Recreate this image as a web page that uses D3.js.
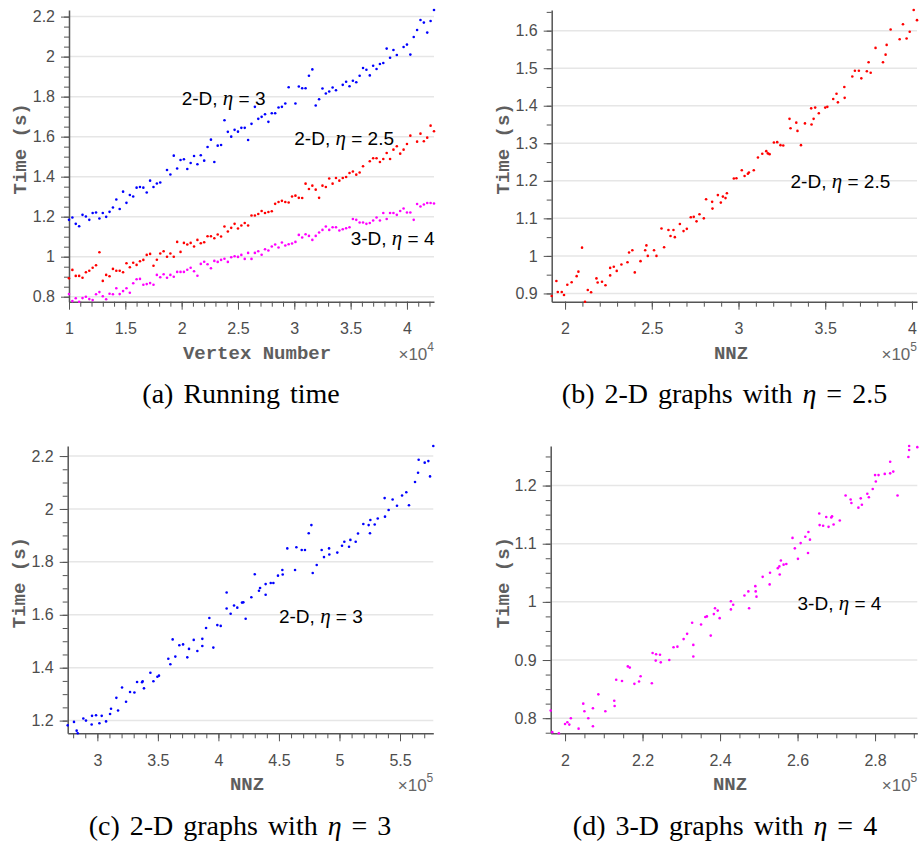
<!DOCTYPE html>
<html>
<head>
<meta charset="utf-8">
<script src="https://cdn.jsdelivr.net/npm/d3@7"></script>
<style>
  body { margin: 0; background: #fff; }
  svg { display: block; font-family: "Liberation Sans", Arial, sans-serif; }
  .tick text { font-size: 16px; fill: #4d4d4d; }
  .tick line, .domain { stroke: #555; }
  .axtitle { font-family: "Liberation Mono", "Courier New", monospace; font-weight: bold; font-size: 19px; fill: #5e5e5e; }
  .note { font-size: 19px; fill: #000; }
  .caption { font-family: "Liberation Serif", "Times New Roman", serif; font-size: 28px; word-spacing: 3px; fill: #000; }
  .eta { font-family: "Liberation Serif", serif; font-style: italic; }
</style>
</head>
<body>
<svg id="fig" width="919" height="845"></svg>
<script>
// ---- data ----

// panel (a): vertex number of each graph
var vertexNum = [10000, 10300, 10600, 10900, 11200, 11500, 11800, 12100, 12400, 12700,
  13000, 13300, 13600, 13900, 14200, 14500, 14800, 15100, 15400, 15700,
  16000, 16300, 16600, 16900, 17200, 17500, 17800, 18100, 18400, 18700,
  19000, 19300, 19600, 19900, 20200, 20500, 20800, 21100, 21400, 21700,
  22000, 22300, 22600, 22900, 23200, 23500, 23800, 24100, 24400, 24700,
  25000, 25300, 25600, 25900, 26200, 26500, 26800, 27100, 27400, 27700,
  28000, 28300, 28600, 28900, 29200, 29500, 29800, 30100, 30400, 30700,
  31000, 31300, 31600, 31900, 32200, 32500, 32800, 33100, 33400, 33700,
  34000, 34300, 34600, 34900, 35200, 35500, 35800, 36100, 36400, 36700,
  37000, 37300, 37600, 37900, 38200, 38500, 38800, 39100, 39400, 39700,
  40000, 40300, 40600, 40900, 41200, 41500, 41800, 42100, 42400]

// running time (s), null = no dot visible
var time2D3 = [1.184, 1.196, 1.164, 1.152, 1.209, 1.201, 1.184, 1.218, 1.221, 1.191,
  1.218, 1.199, 1.224, 1.246, 1.286, 1.238, 1.325, 1.269, 1.308, 1.301,
  1.345, 1.348, 1.345, 1.321, 1.380, 1.348, 1.366, 1.371, null, 1.433,
  1.411, 1.505, 1.441, 1.483, 1.487, 1.438, 1.468, 1.503, 1.462, 1.507,
  1.480, 1.548, 1.585, 1.473, 1.555, 1.558, 1.682, 1.624, 1.600, 1.634,
  1.625, 1.644, 1.644, 1.583, 1.664, 1.749, 1.689, 1.699, 1.712, 1.674,
  1.717, 1.717, 1.746, 1.749, 1.766, 1.847, null, 1.766, 1.851, 1.842,
  1.842, 1.904, 1.936, 1.756, 1.787, 1.841, 1.816, 1.826, 1.846, 1.832,
  null, 1.859, 1.874, 1.852, 1.879, 1.872, 1.904, 1.943, 1.934, 1.906,
  1.954, 1.938, 1.963, 1.968, 2.040, 1.994, 2.033, 2.008, null, 2.048,
  2.060, 2.010, 2.098, 2.133, 2.183, 2.170, 2.120, 2.178, 2.233]

var time2D25 = [0.892, 0.934, 0.904, 0.904, 0.895, 0.922, 0.930, 0.945, 0.957, 1.022,
  0.879, 0.909, 0.902, 0.939, 0.930, 0.930, 0.922, 0.967, 0.947, 0.970,
  0.959, 0.977, 0.984, 1.009, 1.014, 0.955, 0.985, 1.016, 1.027, 1.000,
  1.016, 1.000, 1.074, 1.024, 1.069, 1.061, 1.069, 1.051, 1.084, 1.067,
  1.072, 1.102, 1.102, 1.092, 1.111, 1.101, 1.151, 1.126, 1.144, 1.164,
  1.141, 1.156, 1.168, 1.156, 1.206, 1.206, 1.213, 1.228, 1.218, 1.223,
  1.227, 1.264, 1.273, 1.279, 1.273, 1.271, 1.301, 1.305, 1.294, 1.293,
  1.365, 1.338, 1.355, 1.335, 1.294, 1.355, 1.348, 1.391, 1.365, 1.393,
  1.380, 1.393, 1.398, 1.418, 1.426, 1.410, 1.421, 1.452, null, 1.477,
  1.492, 1.492, 1.473, 1.488, 1.518, 1.488, 1.535, 1.552, 1.515, 1.535,
  1.563, 1.605, null, 1.575, 1.615, 1.577, 1.595, 1.655, 1.627]

var time3D4 = [0.813, 0.778, 0.792, 0.775, 0.793, 0.800, 0.788, 0.783, 0.812, 0.823,
  0.802, 0.787, 0.815, 0.812, 0.842, 0.813, 0.828, 0.842, 0.820, 0.867,
  0.887, 0.889, 0.860, 0.863, 0.868, 0.860, 0.909, 0.897, 0.912, 0.895,
  0.909, 0.900, 0.924, 0.924, 0.924, 0.935, 0.945, 0.927, 0.905, 0.964,
  0.975, 0.962, 0.942, 0.979, 0.974, 0.984, 0.990, 0.974, 0.997, 1.002,
  0.999, 1.009, 0.989, 1.019, 0.989, 1.019, 1.027, 1.010, 1.037, 1.031,
  1.051, 1.061, 1.046, 1.071, 1.056, 1.062, 1.066, 1.074, 1.109, 1.096,
  1.112, 1.104, 1.084, 1.104, 1.121, 1.134, 1.151, 1.134, 1.147, 1.147,
  1.131, 1.137, 1.142, 1.147, 1.188, 1.184, 1.171, 1.171, 1.164, 1.168,
  1.181, 1.196, 1.181, 1.218, 1.188, 1.218, 1.218, 1.209, 1.228, 1.241,
  1.221, 1.221, 1.184, 1.263, 1.251, 1.261, 1.268, 1.268, 1.266]

// panel (b): 2-D, eta = 2.5  (NNZ in units of 1e5)
var nnzB = [1.923, 1.950, 1.958, 1.981, 1.994, 2.013, 2.038, 2.067, 2.077, 2.098,
  2.115, 2.131, 2.150, 2.181, 2.188, 2.213, 2.233, 2.260, 2.260, 2.281,
  2.298, 2.325, 2.360, 2.369, 2.388, 2.402, 2.435, 2.462, 2.469, 2.477,
  2.513, 2.527, 2.556, 2.571, 2.596, 2.608, 2.625, 2.633, 2.662, 2.683,
  2.702, 2.725, 2.742, 2.758, 2.775, 2.800, 2.813, 2.848, 2.850, 2.881,
  2.898, 2.910, 2.925, 2.933, 2.973, 2.988, 3.019, 3.035, 3.054, 3.060,
  3.088, 3.112, 3.137, 3.160, 3.169, 3.179, 3.204, 3.223, 3.242, 3.258,
  3.294, 3.300, 3.333, 3.340, 3.360, 3.383, 3.419, 3.421, 3.433, 3.442,
  3.463, 3.500, 3.512, 3.546, 3.565, 3.573, 3.610, 3.612, 3.656, 3.671,
  3.694, 3.708, 3.740, 3.750, 3.762, 3.790, 3.833, 3.848, 3.854, 3.877,
  3.929, 3.948, 3.969, 3.987, 4.010, 4.029]
var timeB = [0.893, 0.933, 0.904, 0.904, 0.896, 0.923, 0.930, 0.946, 0.958, 1.022,
  0.878, 0.909, 0.903, 0.940, 0.929, 0.931, 0.922, 0.948, 0.968, 0.971,
  0.960, 0.977, 0.983, 1.009, 1.015, 0.956, 0.986, 1.015, 1.028, 1.000,
  1.015, 1.000, 1.073, 1.023, 1.069, 1.053, 1.069, 1.050, 1.085, 1.066,
  1.072, 1.103, 1.104, 1.092, 1.111, 1.100, 1.151, 1.144, 1.126, 1.162,
  1.142, 1.158, 1.154, 1.167, 1.206, 1.207, 1.228, 1.213, 1.219, 1.222,
  1.228, 1.262, 1.272, 1.279, 1.273, 1.271, 1.302, 1.303, 1.295, 1.294,
  1.365, 1.340, 1.355, 1.333, 1.295, 1.353, 1.393, 1.350, 1.365, 1.395,
  1.380, 1.395, 1.397, 1.418, 1.432, 1.409, 1.450, 1.421, 1.478, 1.493,
  1.493, 1.473, 1.492, 1.516, 1.488, 1.554, 1.516, 1.536, 1.562, 1.603,
  1.577, 1.617, 1.579, 1.597, 1.655, 1.628]

// panel (c): 2-D, eta = 3
var nnzC = [2.755, 2.807, 2.829, 2.838, 2.884, 2.906, 2.953, 2.956, 2.989, 3.017,
  3.036, 3.072, 3.105, 3.113, 3.157, 3.171, 3.204, 3.237, 3.270, 3.306,
  3.328, 3.369, 3.374, 3.385, 3.438, 3.463, 3.496, 3.509, 3.586, 3.603,
  3.622, 3.644, 3.677, 3.708, 3.743, 3.757, 3.796, 3.826, 3.867, 3.867,
  3.898, 3.925, 3.958, 3.991, 4.019, 4.068, 4.068, 4.101, 4.129, 4.156,
  4.195, 4.206, 4.225, 4.272, 4.300, 4.335, 4.344, 4.390, 4.390, 4.432,
  4.454, 4.492, 4.528, 4.531, 4.569, 4.633, 4.644, 4.688, 4.715, 4.746,
  4.768, 4.779, 4.812, 4.853, 4.872, 4.914, 4.916, 4.982, 5.021, 5.040,
  5.079, 5.090, 5.134, 5.153, 5.197, 5.241, 5.252, 5.255, 5.291, 5.316,
  5.373, 5.376, 5.406, 5.439, 5.475, 5.517, 5.552, 5.574, 5.624, 5.649,
  5.654, 5.704, 5.734, 5.748, 5.775]
var timeC = [1.182, 1.195, 1.162, 1.152, 1.208, 1.200, 1.185, 1.218, 1.220, 1.190,
  1.218, 1.197, 1.225, 1.245, 1.286, 1.238, 1.325, 1.271, 1.308, 1.306,
  1.346, 1.345, 1.349, 1.322, 1.381, 1.349, 1.366, 1.370, 1.434, 1.413,
  1.507, 1.442, 1.485, 1.488, 1.439, 1.471, 1.505, 1.463, 1.509, 1.482,
  1.550, 1.588, 1.476, 1.561, 1.558, 1.684, 1.624, 1.604, 1.635, 1.627,
  1.646, 1.647, 1.585, 1.666, 1.753, 1.691, 1.701, 1.716, 1.676, 1.720,
  1.720, 1.748, 1.769, 1.752, 1.851, 1.769, 1.855, 1.845, 1.845, 1.908,
  1.939, 1.758, 1.788, 1.845, 1.818, 1.851, 1.828, 1.835, 1.861, 1.876,
  1.857, 1.883, 1.876, 1.907, 1.943, 1.939, 1.908, 1.958, 1.941, 1.964,
  2.041, 1.971, 1.996, 2.036, 2.012, 2.051, 2.063, 2.014, 2.102, 2.137,
  2.186, 2.175, 2.181, 2.123, 2.238]

// panel (d): 3-D, eta = 4
var nnzD = [1.963, 1.967, 1.984, 2.000, 2.006, 2.011, 2.015, 2.035, 2.047, 2.050,
  2.060, 2.072, 2.072, 2.086, 2.104, 2.127, 2.128, 2.132, 2.147, 2.162,
  2.167, 2.179, 2.191, 2.195, 2.224, 2.226, 2.234, 2.235, 2.245, 2.247,
  2.269, 2.280, 2.290, 2.306, 2.315, 2.328, 2.331, 2.331, 2.351, 2.362,
  2.366, 2.376, 2.384, 2.387, 2.394, 2.399, 2.428, 2.428, 2.434, 2.463,
  2.473, 2.475, 2.491, 2.492, 2.494, 2.510, 2.528, 2.529, 2.549, 2.553,
  2.554, 2.557, 2.564, 2.571, 2.587, 2.593, 2.601, 2.608, 2.620, 2.627,
  2.628, 2.632, 2.656, 2.657, 2.666, 2.674, 2.680, 2.687, 2.689, 2.693,
  2.709, 2.724, 2.737, 2.739, 2.757, 2.763, 2.766, 2.780, 2.784, 2.794,
  2.800, 2.802, 2.809, 2.825, 2.839, 2.839, 2.847, 2.858, 2.886, 2.888,
  2.888, 2.909]
var timeD = [0.813, 0.776, 0.774, 0.790, 0.793, 0.789, 0.800, 0.782, 0.825, 0.812,
  0.800, 0.817, 0.786, 0.841, 0.812, 0.830, 0.821, 0.866, 0.864, 0.889,
  0.887, 0.859, 0.863, 0.872, 0.860, 0.912, 0.899, 0.910, 0.909, 0.896,
  0.900, 0.922, 0.923, 0.936, 0.945, 0.964, 0.926, 0.906, 0.961, 0.974,
  0.975, 0.942, 0.979, 0.989, 0.985, 0.972, 1.001, 0.987, 0.995, 1.011,
  1.018, 0.989, 1.027, 1.018, 1.009, 1.043, 1.030, 1.050, 1.058, 1.061,
  1.047, 1.071, 1.064, 1.065, 1.110, 1.092, 1.074, 1.101, 1.112, 1.084,
  1.120, 1.107, 1.152, 1.132, 1.131, 1.146, 1.129, 1.145, 1.147, 1.133,
  1.140, 1.183, 1.176, 1.170, 1.162, 1.178, 1.167, 1.186, 1.180, 1.194,
  1.218, 1.207, 1.218, 1.220, 1.241, 1.221, 1.224, 1.183, 1.249, 1.261,
  1.268, 1.266]

var BLUE = "#0000ff", RED = "#ff0000", MAGENTA = "#ff00ff"

// zip x/y arrays into points, skipping missing ones
function pts(xs, ys, div) {
  var out = []
  for (var i = 0; i < xs.length; i++) {
    if (ys[i] != null) out.push([xs[i] / div, ys[i]])
  }
  return out
}

// tick values between the limits (step in axis units)
function stepTicks(dom, step) {
  var a = Math.ceil(dom[0] / step - 1e-6), b = Math.floor(dom[1] / step + 1e-6)
  return d3.range(a, b + 1).map(function(i) { return +(i * step).toFixed(4) })
}

var svg = d3.select("#fig")
svg.append("rect").attr("width", 919).attr("height", 845).attr("fill", "#fff")

var panels = [
  { left: 69, right: 434, top: 10, bottom: 301.7, xStep: 0.5, xMinor: 0.1, yStep: 0.2, yMinor: 0.05,
    xlabel: "Vertex Number", xlabX: 257, exp: "4", ylabX: 19,
    series: [ { p: pts(vertexNum, time2D3, 1e4), c: BLUE },
              { p: pts(vertexNum, time2D25, 1e4), c: RED },
              { p: pts(vertexNum, time3D4, 1e4), c: MAGENTA } ],
    notes: [ { x: 2.0, y: 1.756, a: "2-D, ", b: " = 3" },
             { x: 3.0, y: 1.560, a: "2-D, ", b: " = 2.5" },
             { x: 3.5, y: 1.059, a: "3-D, ", b: " = 4" } ] },
  { left: 551.7, right: 917, top: 10, bottom: 301.7, xStep: 0.5, xMinor: 0.1, yStep: 0.1, yMinor: 0.05,
    xlabel: "NNZ", xlabX: 731, exp: "5", ylabX: 502,
    series: [ { p: pts(nnzB, timeB, 1), c: RED } ],
    notes: [ { x: 3.3, y: 1.181, a: "2-D, ", b: " = 2.5" } ] },
  { left: 67.7, right: 433.3, top: 446, bottom: 733.3, xStep: 0.5, xMinor: 0.1, yStep: 0.2, yMinor: 0.05,
    xlabel: "NNZ", xlabX: 247, exp: "5", ylabX: 18.5,
    series: [ { p: pts(nnzC, timeC, 1), c: BLUE } ],
    notes: [ { x: 4.5, y: 1.570, a: "2-D, ", b: " = 3" } ] },
  { left: 550.7, right: 917.3, top: 446, bottom: 733.3, xStep: 0.2, xMinor: 0.05, yStep: 0.1, yMinor: 0.025,
    xlabel: "NNZ", xlabX: 730, exp: "5", ylabX: 502,
    series: [ { p: pts(nnzD, timeD, 1), c: MAGENTA } ],
    notes: [ { x: 2.6, y: 0.9865, a: "3-D, ", b: " = 4" } ] }
]

var captions = [
  { x: 241, y: 403, a: "(a) Running time" },
  { x: 724.5, y: 403, a: "(b) 2-D graphs with ", eta: true, b: " = 2.5" },
  { x: 240, y: 835, a: "(c) 2-D graphs with ", eta: true, b: " = 3" },
  { x: 725, y: 835, a: "(d) 3-D graphs with ", eta: true, b: " = 4" }
]

var fmt = function(d) { return String(+d.toFixed(3)) }

panels.forEach(function(p) {
  var all = d3.merge(p.series.map(function(s) { return s.p }))
  var x = d3.scaleLinear().domain(d3.extent(all, function(d) { return d[0] })).range([p.left, p.right])
  var y = d3.scaleLinear().domain(d3.extent(all, function(d) { return d[1] })).range([p.bottom, p.top])
  var g = svg.append("g")

  // horizontal grid
  g.append("g").selectAll("line")
    .data(stepTicks(y.domain(), p.yStep))
    .join("line")
    .attr("x1", p.left).attr("x2", p.right)
    .attr("y1", y).attr("y2", y)
    .attr("stroke", "#e6e6e6").attr("stroke-width", 1.5)

  // minor ticks
  var yMin = g.append("g").attr("transform", "translate(" + p.left + ",0)")
    .call(d3.axisLeft(y).tickValues(stepTicks(y.domain(), p.yMinor)).tickSize(5).tickFormat(""))
  yMin.select(".domain").remove()
  var xMin = g.append("g").attr("transform", "translate(0," + p.bottom + ")")
    .call(d3.axisBottom(x).tickValues(stepTicks(x.domain(), p.xMinor)).tickSize(5).tickFormat(""))
  xMin.select(".domain").remove()

  // major ticks + labels
  g.append("g").attr("transform", "translate(" + p.left + ",0)")
    .call(d3.axisLeft(y).tickValues(stepTicks(y.domain(), p.yStep)).tickSize(8).tickSizeOuter(0)
      .tickPadding(6).tickFormat(fmt))
  g.append("g").attr("transform", "translate(0," + p.bottom + ")")
    .call(d3.axisBottom(x).tickValues(stepTicks(x.domain(), p.xStep)).tickSize(8).tickSizeOuter(0)
      .tickPadding(13).tickFormat(fmt))
  g.selectAll(".domain").attr("stroke-width", 1.5)

  // dots
  p.series.forEach(function(s) {
    g.append("g").selectAll("circle")
      .data(s.p)
      .join("circle")
      .attr("cx", function(d) { return x(d[0]) })
      .attr("cy", function(d) { return y(d[1]) })
      .attr("r", 1.3)
      .attr("fill", s.c)
  })

  // text labels inside the axes
  p.notes.forEach(function(n) {
    var t = g.append("text").attr("class", "note")
      .attr("x", x(n.x)).attr("y", y(n.y))
    t.append("tspan").text(n.a)
    t.append("tspan").attr("class", "eta").attr("font-size", 21).text("\u03b7")
    t.append("tspan").text(n.b)
  })

  // axis titles
  var cy = (p.top + p.bottom) / 2
  g.append("text").attr("class", "axtitle")
    .attr("text-anchor", "middle")
    .attr("x", p.xlabX).attr("y", p.bottom + 57)
    .text(p.xlabel)
  g.append("text").attr("class", "axtitle")
    .attr("text-anchor", "middle")
    .attr("transform", "translate(" + p.ylabX + "," + (cy - 7) + ") rotate(-90)")
    .attr("dy", "0.35em")
    .text("Time (s)")

  // x10^n multiplier
  var m = g.append("text")
    .attr("text-anchor", "end")
    .attr("x", p.right).attr("y", p.bottom + 58)
    .attr("font-size", 17).attr("fill", "#666")
  m.append("tspan").text("\u00d710")
  m.append("tspan").attr("dy", -9).attr("font-size", 12).text(p.exp)
})

// sub-figure captions
captions.forEach(function(c) {
  var t = svg.append("text").attr("class", "caption")
    .attr("text-anchor", "middle")
    .attr("x", c.x).attr("y", c.y)
  t.append("tspan").text(c.a)
  if (c.eta) {
    t.append("tspan").attr("class", "eta").text("\u03b7")
    t.append("tspan").text(c.b)
  }
})
</script>
</body>
</html>
